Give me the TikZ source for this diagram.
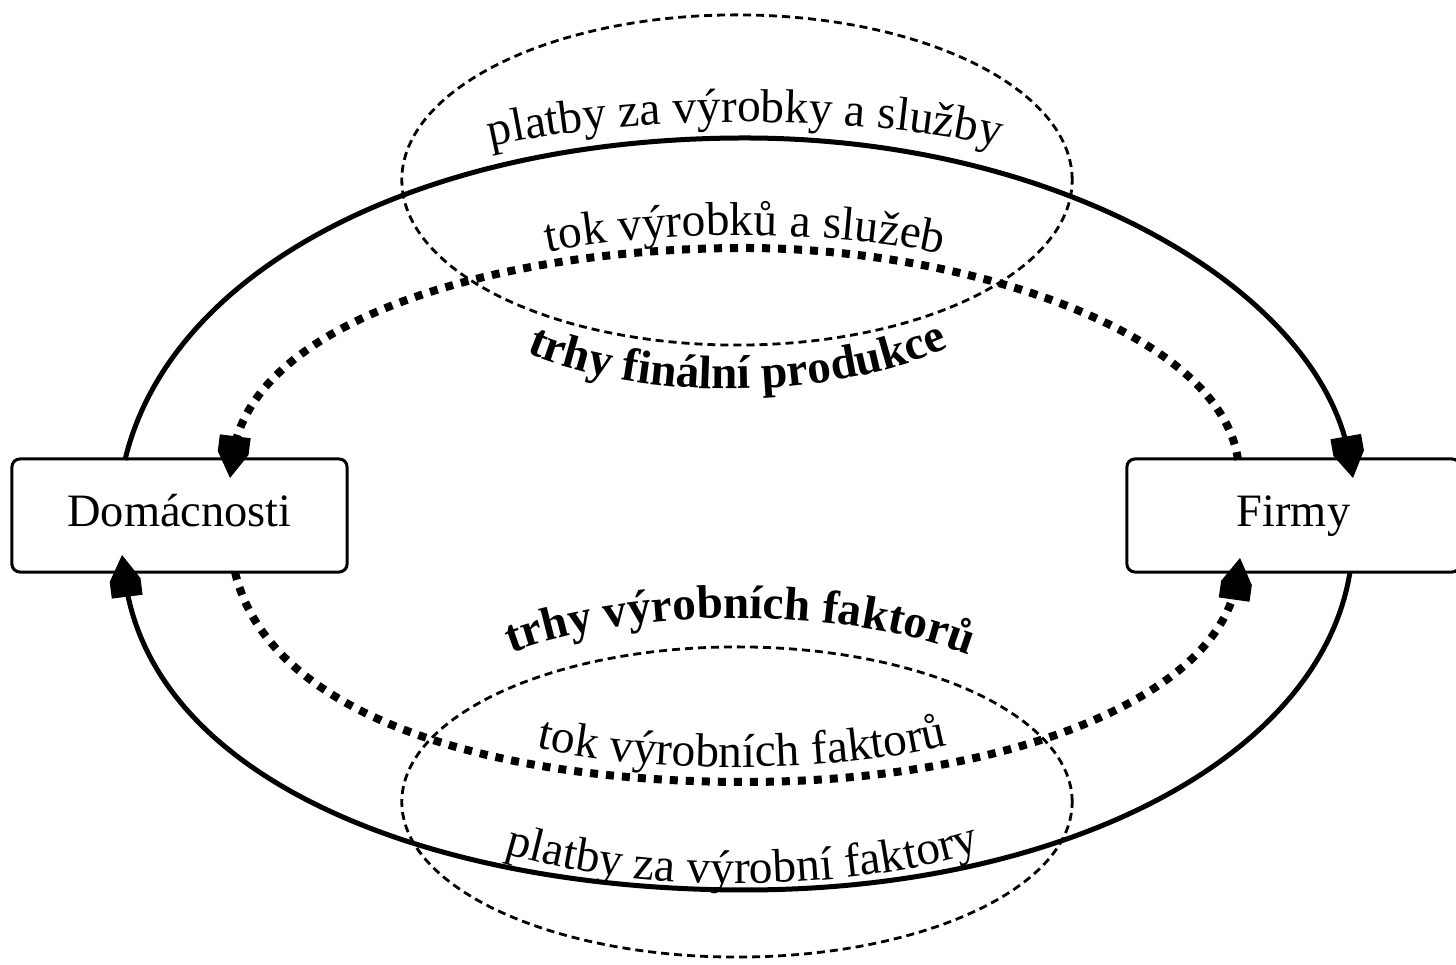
\documentclass[tikz,border=0pt]{standalone}
\usepackage{fontspec}
\setmainfont{Liberation Serif}
\usetikzlibrary{arrows.meta,decorations.text}
\newcommand\lblfont{\fontsize{13.5}{16}\selectfont}
\newcommand\lblbold{\fontsize{13.4}{16}\selectfont\bfseries}
\newcommand\boxfont{\fontsize{13.2}{16}\selectfont}
\pgfdeclarearrow{
  name = Pent,
  parameters = {\the\pgfarrowlength,\the\pgfarrowwidth},
  setup code = {
    \pgfarrowssettipend{\pgfarrowlength}
    \pgfarrowssetbackend{0pt}
    \pgfarrowssetlineend{0.5\pgfarrowlength}
    \pgfarrowssavethe\pgfarrowlength
    \pgfarrowssavethe\pgfarrowwidth
  },
  drawing code = {
    \pgfsetdash{}{0pt}
    \pgfpathmoveto{\pgfqpoint{\pgfarrowlength}{0pt}}
    \pgfpathlineto{\pgfqpoint{0.4\pgfarrowlength}{0.5\pgfarrowwidth}}
    \pgfpathlineto{\pgfqpoint{0pt}{0.5\pgfarrowwidth}}
    \pgfpathlineto{\pgfqpoint{0pt}{-0.5\pgfarrowwidth}}
    \pgfpathlineto{\pgfqpoint{0.4\pgfarrowlength}{-0.5\pgfarrowwidth}}
    \pgfpathclose
    \pgfusepathqfill
  },
  defaults = {length=0.4cm, width=0.28cm}
}
\tikzset{
  agent/.style={draw, line width=0.03cm, rounded corners=0.08cm, minimum height=1.13cm, inner sep=0pt,
    text height=0.74em, text depth=0.1em, font=\boxfont},
  bigtip/.style={-{Pent[length=0.42cm,width=0.31cm]}},
  money/.style={line width=0.05cm, bigtip},
  goods/.style={line width=0.08cm, dash pattern=on 0.08cm off 0.08cm, bigtip},
  market/.style={line width=0.028cm, dash pattern=on 0.08cm off 0.05cm},
  lbl/.style={decorate, decoration={text along path, text align=center, text color=black, text={#1}}},
}
\begin{document}
\begin{tikzpicture}[x=0.01cm,y=-0.01cm]
\useasboundingbox[fill=white] (0,0) rectangle (1456,965);

% boxes
\node[agent, minimum width=3.35cm] (dom) at (179.5,515.5) {Domácnosti};
\node[agent, minimum width=3.33cm] (fir) at (1293.5,515.5) {Firmy};

% market ellipses
\draw[market] (737,180) ellipse [x radius=3.35cm, y radius=1.65cm];
\draw[market] (737,802) ellipse [x radius=3.35cm, y radius=1.55cm];

% connector end points
\coordinate (o1) at (125,460);
\coordinate (o2) at (1353,478);
\coordinate (o3) at (1350,572);
\coordinate (o4) at (122,555);
\coordinate (i1) at (1238,460);
\coordinate (i2) at (230,478);
\coordinate (i3) at (235,572);
\coordinate (i4) at (1240,558);

% money flows (solid)
\draw[money] (o1) .. controls (170,270) and (420,138) .. (745,138)
              .. controls (1060,138) and (1320,290) .. (o2);
\draw[money] (o3) .. controls (1320,760) and (1060,890) .. (745,890)
              .. controls (430,890) and (150,780) .. (o4);

% real flows (dotted)
\draw[goods] (i1) .. controls (1220,330) and (960,248) .. (745,248)
              .. controls (500,248) and (250,320) .. (i2);
\draw[goods] (i3) .. controls (270,720) and (500,782) .. (745,782)
              .. controls (1000,782) and (1220,700) .. (i4);

% curved labels
\path[lbl={|\lblfont|platby za výrobky a služby}]
  (470,152) .. controls (620,112) and (870,112) .. (1020,152);
\path[lbl={|\lblfont|tok výrobků a služeb}]
  (530,256) .. controls (650,228) and (840,228) .. (960,258);
\path[lbl={|\lblbold|trhy finální produkce}]
  (525,352) .. controls (640,402) and (830,402) .. (950,347);
\path[lbl={|\lblbold|trhy výrobních faktorů}]
  (490,662) .. controls (620,603) and (860,603) .. (990,664);
\path[lbl={|\lblfont|tok výrobních faktorů}]
  (525,745) .. controls (640,775) and (840,775) .. (960,742);
\path[lbl={|\lblfont|platby za výrobní faktory}]
  (495,850) .. controls (630,895) and (850,895) .. (990,848);
\end{tikzpicture}
\end{document}
